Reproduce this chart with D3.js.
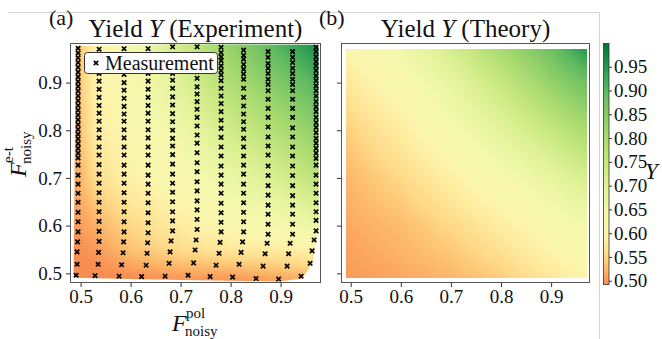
<!DOCTYPE html>
<html>
<head>
<meta charset="utf-8">
<script src="https://cdn.jsdelivr.net/npm/d3@7"></script>
<style>
  body { margin: 0; background: #fff; }
  text { font-family: "Liberation Serif", "DejaVu Serif", serif; fill: #111; }
</style>
</head>
<body>
<svg id="fig" width="662" height="339"></svg>
<script>
// tick values
const xTicks = [0.5, 0.6, 0.7, 0.8, 0.9];
const yTicks = [0.5, 0.6, 0.7, 0.8, 0.9];
const cbTicks = [0.5, 0.55, 0.6, 0.65, 0.7, 0.75, 0.8, 0.85, 0.9, 0.95];

// measurement columns: F_pol of each column (upper part) and F_e-t of its points (top to bottom)
const colPol = [0.495, 0.537, 0.587, 0.635, 0.684, 0.733, 0.781, 0.826, 0.875, 0.924, 0.971];
// F_pol of the last four points in each column (they lean left at the bottom)
const tailPol = [
  [0.494, 0.493, 0.493, 0.491],
  [0.537, 0.536, 0.535, 0.529],
  [0.586, 0.585, 0.582, 0.577],
  [0.634, 0.633, 0.631, 0.622],
  [0.681, 0.679, 0.677, 0.669],
  [0.731, 0.729, 0.726, 0.715],
  [0.779, 0.777, 0.771, 0.759],
  [0.824, 0.821, 0.817, 0.804],
  [0.873, 0.869, 0.865, 0.851],
  [0.919, 0.916, 0.913, 0.896],
  [0.967, 0.963, 0.959, 0.941]
];
const colEt = [
  [0.972, 0.962, 0.952, 0.942, 0.932, 0.922, 0.912, 0.902, 0.892, 0.882, 0.872, 0.862, 0.852, 0.842,
   0.832, 0.822, 0.812, 0.802, 0.792, 0.782, 0.772, 0.762, 0.752, 0.742,
   0.727, 0.706, 0.687, 0.668, 0.649, 0.628, 0.608, 0.587, 0.566, 0.545, 0.519, 0.496],
  [0.970, 0.953, 0.936, 0.919, 0.903, 0.886, 0.869, 0.852, 0.836, 0.819, 0.801, 0.784, 0.765, 0.748,
   0.728, 0.708, 0.689, 0.669, 0.649, 0.629, 0.609, 0.588, 0.567, 0.544, 0.519, 0.495],
  [0.971, 0.953, 0.936, 0.917, 0.900, 0.884, 0.867, 0.850, 0.834, 0.819, 0.801, 0.784, 0.765, 0.748,
   0.727, 0.708, 0.689, 0.669, 0.649, 0.629, 0.608, 0.587, 0.566, 0.543, 0.518, 0.494],
  [0.971, 0.953, 0.936, 0.919, 0.903, 0.886, 0.869, 0.852, 0.836, 0.819, 0.801, 0.784, 0.765, 0.748,
   0.727, 0.706, 0.687, 0.668, 0.648, 0.627, 0.606, 0.585, 0.564, 0.542, 0.517, 0.493],
  [0.975, 0.958, 0.938, 0.919, 0.905, 0.888, 0.870, 0.853, 0.835, 0.818, 0.800, 0.783, 0.767, 0.749,
   0.729, 0.708, 0.689, 0.670, 0.650, 0.629, 0.610, 0.589, 0.568, 0.545, 0.521, 0.494],
  [0.975, 0.958, 0.940, 0.923, 0.909, 0.891, 0.876, 0.860, 0.844, 0.827, 0.809, 0.790, 0.773, 0.753,
   0.732, 0.713, 0.692, 0.673, 0.652, 0.633, 0.613, 0.592, 0.570, 0.549, 0.522, 0.496],
  [0.974, 0.963, 0.954, 0.946, 0.935, 0.925, 0.916, 0.904, 0.888, 0.872, 0.856, 0.839, 0.821, 0.804,
   0.785, 0.765, 0.746, 0.725, 0.706, 0.687, 0.668, 0.647, 0.627, 0.607, 0.587, 0.565, 0.542, 0.517, 0.493],
  [0.968, 0.957, 0.949, 0.938, 0.928, 0.918, 0.907, 0.888, 0.869, 0.851, 0.834, 0.818, 0.802, 0.783,
   0.765, 0.746, 0.727, 0.708, 0.687, 0.668, 0.648, 0.628, 0.608, 0.587, 0.566, 0.544, 0.519, 0.492],
  [0.965, 0.953, 0.940, 0.930, 0.919, 0.907, 0.896, 0.883, 0.865, 0.846, 0.827, 0.807, 0.786, 0.767,
   0.748, 0.725, 0.705, 0.684, 0.664, 0.643, 0.624, 0.603, 0.582, 0.563, 0.541, 0.515, 0.489],
  [0.965, 0.953, 0.942, 0.930, 0.919, 0.907, 0.896, 0.883, 0.865, 0.846, 0.827, 0.805, 0.786, 0.765,
   0.746, 0.725, 0.705, 0.684, 0.663, 0.643, 0.624, 0.603, 0.582, 0.563, 0.541, 0.515, 0.488],
  [0.974, 0.965, 0.954, 0.944, 0.935, 0.925, 0.914, 0.904, 0.893, 0.883, 0.872, 0.860, 0.849, 0.839,
   0.827, 0.816, 0.806, 0.795, 0.783, 0.773, 0.762, 0.752, 0.741,
   0.727, 0.706, 0.687, 0.668, 0.648, 0.629, 0.611, 0.589, 0.570, 0.547, 0.521, 0.494]
];

// experimental yield, read on a coarse grid (rows: F_e-t ascending)
const expPol = [0.49, 0.53, 0.6, 0.7, 0.8, 0.9, 0.975];
const expEt = [0.49, 0.55, 0.6, 0.7, 0.8, 0.9, 0.975];
const expY = [
  [0.48, 0.485, 0.49, 0.50, 0.50, 0.51, 0.52],
  [0.49, 0.50, 0.53, 0.555, 0.57, 0.58, 0.59],
  [0.50, 0.515, 0.55, 0.58, 0.61, 0.64, 0.67],
  [0.51, 0.555, 0.59, 0.62, 0.67, 0.72, 0.77],
  [0.515, 0.58, 0.61, 0.66, 0.73, 0.79, 0.84],
  [0.52, 0.59, 0.63, 0.70, 0.79, 0.86, 0.91],
  [0.52, 0.59, 0.64, 0.73, 0.83, 0.91, 0.96]
];

// theoretical yield grid
const thPol = [0.49, 0.6, 0.7, 0.8, 0.9, 0.972];
const thEt = [0.49, 0.6, 0.7, 0.8, 0.9, 0.97];
const thY = [
  [0.50, 0.51, 0.52, 0.54, 0.57, 0.60],
  [0.51, 0.525, 0.55, 0.58, 0.62, 0.65],
  [0.52, 0.55, 0.585, 0.63, 0.68, 0.72],
  [0.54, 0.58, 0.63, 0.69, 0.75, 0.80],
  [0.57, 0.62, 0.68, 0.75, 0.83, 0.88],
  [0.60, 0.65, 0.72, 0.80, 0.88, 0.95]
];

const svg = d3.select("#fig");
const FONT = '"Liberation Serif", "DejaVu Serif", serif';

// colormap: part of RdYlGn
const cmapT = d3.scaleLinear()
  .domain([0.49, 0.5, 0.55, 0.6, 0.7, 0.8, 0.9, 1.0])
  .range([0.25, 0.27, 0.39, 0.48, 0.58, 0.69, 0.81, 0.98])
  .clamp(true);
const color = v => d3.interpolateRdYlGn(cmapT(v));

const xA = d3.scaleLinear().domain([0.4788, 0.9808]).range([70, 321]);
const xB = d3.scaleLinear().domain([0.4806, 0.9776]).range([341, 590]);
const y = d3.scaleLinear().domain([0.4797, 0.983]).range([283, 43]);

// figure frame
svg.append("path").attr("d", "M8,12.5H599.5V339").attr("fill", "none").attr("stroke", "#d4d4d4");

function lookup(arr, v) {
  let i = 0;
  while (i < arr.length - 2 && v > arr[i + 1]) i++;
  const t = Math.max(0, Math.min(1, (v - arr[i]) / (arr[i + 1] - arr[i])));
  return [i, t];
}

function heat(x, ps, qs, Z, p0, p1, q0, q1) {
  const [r0, r1] = x.range(), [b, t] = y.range();
  const w = Math.round(r1 - r0), h = Math.round(b - t);
  const cv = document.createElement("canvas");
  cv.width = w; cv.height = h;
  const ctx = cv.getContext("2d");
  const img = ctx.createImageData(w, h);
  for (let j = 0; j < h; j++) {
    const q = y.invert(t + j + 0.5);
    for (let i = 0; i < w; i++) {
      const p = x.invert(r0 + i + 0.5);
      if (p < p0 || p > p1 || q < q0 || q > q1) continue;
      const [ci, ct] = lookup(ps, p), [ri, rt] = lookup(qs, q);
      const v = (1 - rt) * ((1 - ct) * Z[ri][ci] + ct * Z[ri][ci + 1]) +
                rt * ((1 - ct) * Z[ri + 1][ci] + ct * Z[ri + 1][ci + 1]);
      const c = d3.rgb(color(v));
      const k = (j * w + i) * 4;
      img.data[k] = c.r; img.data[k + 1] = c.g; img.data[k + 2] = c.b; img.data[k + 3] = 255;
    }
  }
  ctx.putImageData(img, 0, 0);
  return { href: cv.toDataURL(), x: r0, y: t, w, h };
}

// measurement points
const points = [];
colEt.forEach((col, c) => {
  col.forEach((q, k) => {
    const tail = k - (col.length - 4);
    points.push([tail >= 0 ? tailPol[c][tail] : colPol[c], q]);
  });
});

const cross = "M-2.2,-2.2L2.2,2.2M-2.2,2.2L2.2,-2.2";

function styleAxis(g) {
  g.select(".domain").remove();
  g.attr("font-family", FONT);
  g.selectAll("line").attr("stroke", "#333");
  g.selectAll("text").attr("font-size", 19).attr("fill", "#222");
}

function drawAxes(x, showY) {
  const [r0, r1] = x.range();
  svg.append("g").attr("transform", "translate(0,283)")
    .call(d3.axisBottom(x).tickValues(xTicks).tickSize(4).tickPadding(3).tickFormat(d3.format(".1f")))
    .call(styleAxis);
  svg.append("g").attr("transform", `translate(${r0},0)`)
    .call(d3.axisLeft(y).tickValues(yTicks).tickSize(4).tickPadding(4)
      .tickFormat(showY ? d3.format(".1f") : () => ""))
    .call(styleAxis);
  svg.append("rect").attr("x", r0 + 0.5).attr("y", 43.5)
    .attr("width", r1 - r0 - 1).attr("height", 239)
    .attr("fill", "none").attr("stroke", "#555").attr("stroke-width", 1);
}

// panel (a)
const hull = d3.polygonHull(points.flatMap(([p, q]) => {
  const px = xA(p), py = y(q);
  return [[px - 2.5, py], [px + 2.5, py], [px, py - 2.5], [px, py + 2.5]];
}));
svg.append("clipPath").attr("id", "hullA")
  .append("path").attr("d", "M" + hull.join("L") + "Z");
const hA = heat(xA, expPol, expEt, expY, 0, 2, 0, 2);
svg.append("image").attr("href", hA.href).attr("x", hA.x).attr("y", hA.y)
  .attr("width", hA.w).attr("height", hA.h).attr("clip-path", "url(#hullA)");

svg.append("g").selectAll("path").data(points).join("path")
  .attr("transform", d => `translate(${xA(d[0])},${y(d[1])})`)
  .attr("d", cross)
  .attr("stroke", "#000").attr("stroke-width", 1.7);

drawAxes(xA, true);

// legend
const lg = svg.append("g");
lg.append("rect").attr("x", 84.5).attr("y", 52.5).attr("width", 133).attr("height", 21)
  .attr("rx", 3).attr("fill", "#fff").attr("stroke", "#333");
lg.append("path").attr("transform", "translate(96,63)")
  .attr("d", cross).attr("stroke", "#000").attr("stroke-width", 1.7);
lg.append("text").attr("x", 105).attr("y", 70).attr("font-size", 20).text("Measurement");

// panel (b)
const hB = heat(xB, thPol, thEt, thY, 0.49, 0.972, 0.49, 0.97);
svg.append("image").attr("href", hB.href).attr("x", hB.x).attr("y", hB.y)
  .attr("width", hB.w).attr("height", hB.h);
drawAxes(xB, false);

// titles
function title(cx, label, tag, tx) {
  const t = svg.append("text").attr("x", cx).attr("y", 37).attr("text-anchor", "middle").attr("font-size", 25);
  t.append("tspan").text("Yield ");
  t.append("tspan").attr("font-style", "italic").text("Y");
  t.append("tspan").text(" (" + label + ")");
  svg.append("text").attr("x", tx).attr("y", 25).attr("font-size", 22).text(tag);
}
title(195.5, "Experiment", "(a)", 49);
title(465.5, "Theory", "(b)", 319);

// axis labels F^sup_noisy
function fLabel(g, sup) {
  g.append("text").attr("x", 0).attr("y", 0).attr("font-size", 24).attr("font-style", "italic").text("F");
  g.append("text").attr("x", 14).attr("y", -13).attr("font-size", 15).text(sup);
  g.append("text").attr("x", 13).attr("y", 5).attr("font-size", 15).text("noisy");
}
fLabel(svg.append("g").attr("transform", "translate(172,331)"), "pol");
fLabel(svg.append("g").attr("transform", "translate(26,177) rotate(-90)"), "e-t");

// colorbar
const cb = d3.scaleLinear().domain([0.491, 1.0]).range([285, 43]);
const grad = svg.append("defs").append("linearGradient").attr("id", "cbg")
  .attr("x1", 0).attr("y1", 1).attr("x2", 0).attr("y2", 0);
d3.range(0, 1.0001, 0.02).forEach(f => {
  grad.append("stop").attr("offset", f).attr("stop-color", color(cb.domain()[0] + f * (cb.domain()[1] - cb.domain()[0])));
});
svg.append("rect").attr("x", 603.5).attr("y", 43.5).attr("width", 5.5).attr("height", 241)
  .attr("fill", "url(#cbg)").attr("stroke", "#333").attr("stroke-width", 0.8);
svg.append("g").attr("transform", "translate(609,0)")
  .call(d3.axisRight(cb).tickValues(cbTicks).tickSize(3).tickPadding(2).tickFormat(d3.format(".2f")))
  .call(styleAxis);
svg.append("text").attr("x", 645).attr("y", 179).attr("font-size", 23).attr("font-style", "italic").text("Y");
</script>
</body>
</html>
